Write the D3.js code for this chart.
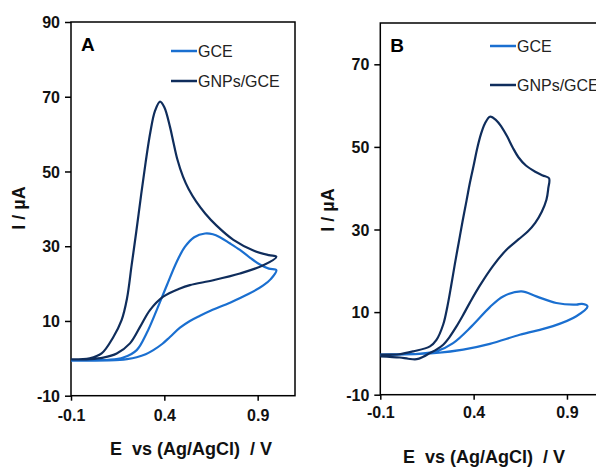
<!DOCTYPE html>
<html><head><meta charset="utf-8">
<script src="https://cdn.jsdelivr.net/npm/d3@7"></script>
<style>body{margin:0;background:#fff}svg{display:block}</style>
</head><body>
<script>
// ---- data (E / V, I / µA) in scan order ----
const xTicks = [-0.1, 0.4, 0.9];
const yTicksA = [-10, 10, 30, 50, 70, 90];
const yTicksB = [-10, 10, 30, 50, 70];
const seriesNames = ["GCE", "GNPs/GCE"];

const gceA = [[-0.1,-0.5],[0.0,-0.5],[0.1,-0.4],[0.18,0.2],[0.252,2.2],[0.305,6.7],[0.359,12.9],[0.413,19.5],[0.466,25.8],[0.51,29.8],[0.56,32.4],[0.618,33.4],[0.66,33.2],[0.698,32.4],[0.75,30.8],[0.805,29.0],[0.86,26.9],[0.912,25.1],[0.96,24.0],[1.0,23.6],
  [0.97,21.2],[0.93,19.5],[0.85,17.2],[0.752,14.9],[0.65,12.8],[0.591,11.4],[0.537,10.0],[0.484,8.2],[0.43,5.7],[0.39,3.9],[0.341,2.2],[0.30,1.1],[0.252,0.3],[0.2,-0.2],[0.162,-0.4],[0.0,-0.6],[-0.1,-0.6]];
const gnpA = [[-0.1,-0.3],[0.0,0.0],[0.064,1.3],[0.127,5.7],[0.171,10.2],[0.20,16.0],[0.225,25.0],[0.25,34.0],[0.275,43.5],[0.30,52.5],[0.325,60.5],[0.35,66.2],[0.377,68.7],[0.40,67.2],[0.43,62.0],[0.45,57.5],[0.47,53.2],[0.50,48.6],[0.53,45.3],[0.57,42.0],[0.62,38.7],[0.68,35.5],[0.77,31.7],[0.88,28.8],[0.96,27.6],[1.0,27.2],
  [0.93,24.9],[0.805,22.7],[0.662,20.9],[0.537,19.6],[0.484,18.7],[0.394,16.5],[0.323,12.9],[0.27,8.4],[0.216,4.0],[0.145,1.3],[0.073,0.2],[0.0,-0.2],[-0.1,-0.3]];
const gceB = [[-0.1,-0.3],[0.0,-0.2],[0.1,-0.1],[0.2,0.5],[0.29,2.5],[0.39,6.6],[0.487,11.2],[0.558,13.8],[0.656,15.0],[0.736,13.8],[0.843,12.2],[0.95,11.8],[0.98,12.0],[1.01,11.4],
  [0.95,9.0],[0.825,6.6],[0.647,4.5],[0.487,2.3],[0.344,0.9],[0.2,0.1],[0.0,-0.3],[-0.1,-0.4]];
const gnpB = [[-0.1,-0.3],[0.0,-0.2],[0.077,0.5],[0.166,1.7],[0.2,3.2],[0.237,7.0],[0.26,11.5],[0.28,16.5],[0.30,21.8],[0.32,26.8],[0.34,31.8],[0.362,37.0],[0.38,41.3],[0.40,45.5],[0.42,49.8],[0.44,53.2],[0.46,55.6],[0.487,57.3],[0.52,56.5],[0.55,54.8],[0.58,52.5],[0.61,49.8],[0.64,47.5],[0.68,45.5],[0.73,44.0],[0.77,43.1],[0.804,42.4],
  [0.80,40.0],[0.79,37.2],[0.765,34.3],[0.73,31.6],[0.69,29.5],[0.64,27.6],[0.576,25.1],[0.504,21.2],[0.433,16.4],[0.38,12.3],[0.34,9.0],[0.309,6.6],[0.27,3.9],[0.237,2.1],[0.2,0.9],[0.166,0.1],[0.13,-0.8],[0.095,-1.4],[0.05,-1.3],[0.005,-1.0],[-0.1,-0.7]];

const colors = ["#1A6FD0", "#0F2D5C"];
const W = 596, H = 467;
const svg = d3.select("body").append("svg").attr("width", W).attr("height", H);
svg.append("rect").attr("width", W).attr("height", H).attr("fill", "#fff");
const font = "'Liberation Sans', Arial, sans-serif";
const fmtX = d => d.toFixed(1);
const fmtY = d => String(d);

function panel(o) {
  const x = d3.scaleLinear().domain([-0.1, 1.1]).range([o.x0, o.x0 + 224]);
  const y = d3.scaleLinear().domain(o.ydom).range([o.y1, o.y0]);
  const g = svg.append("g");
  g.append("rect").attr("x", o.x0).attr("y", o.y0).attr("width", 224).attr("height", o.y1 - o.y0)
    .attr("fill", "none").attr("stroke", "#000").attr("stroke-width", 1.5);
  const line = d3.line().x(d => x(d[0])).y(d => y(d[1])).curve(d3.curveCatmullRom.alpha(0.5));
  o.series.forEach((s, i) => {
    g.append("path").attr("d", line(s)).attr("fill", "none").attr("stroke", colors[i])
      .attr("stroke-width", 2.2).attr("stroke-linejoin", "round");
  });
  const ax = g.append("g").attr("transform", `translate(0,${o.y1})`)
    .call(d3.axisBottom(x).tickValues(xTicks).tickSize(5).tickSizeOuter(0).tickFormat(fmtX));
  const ay = g.append("g").attr("transform", `translate(${o.x0},0)`)
    .call(d3.axisLeft(y).tickValues(o.yticks).tickSize(6).tickSizeOuter(0).tickFormat(fmtY));
  [ax, ay].forEach(a => {
    a.select(".domain").remove();
    a.selectAll("line").attr("stroke", "#000").attr("stroke-width", 1.5);
    a.selectAll("text").attr("font-family", font).attr("font-size", 16).attr("font-weight", "bold").attr("fill", "#111");
  });
  ax.selectAll("text").attr("dy", null).attr("y", 0).attr("transform", `translate(0,${o.xtb - o.y1})`);
  ay.selectAll("text").attr("x", -11).attr("dy", "0.35em");
  g.append("text").attr("x", o.x0 + 10).attr("y", o.y0 + 29).text(o.letter)
    .attr("font-family", font).attr("font-size", 19).attr("font-weight", "bold");
  seriesNames.forEach((n, i) => {
    const ly = o.leg[1] + i * o.legGap;
    g.append("line").attr("x1", o.leg[0]).attr("x2", o.leg[0] + 26).attr("y1", ly).attr("y2", ly)
      .attr("stroke", colors[i]).attr("stroke-width", 2.5);
    g.append("text").attr("x", o.leg[0] + 27).attr("y", ly).attr("dy", "0.35em").text(n)
      .attr("font-family", font).attr("font-size", 16).attr("fill", "#222");
  });
  g.append("text").attr("x", o.xt[0]).attr("y", o.xt[1]).attr("text-anchor", "middle")
    .style("white-space", "pre").text("E  vs (Ag/AgCl)  / V")
    .attr("font-family", font).attr("font-size", 18).attr("font-weight", "bold").attr("fill", "#111");
  g.append("text").attr("transform", `translate(${o.yt[0]},${o.yt[1]}) rotate(-90)`).attr("text-anchor", "middle")
    .attr("dy", "0.35em").text("I / µA")
    .attr("font-family", font).attr("font-size", 18).attr("font-weight", "bold").attr("fill", "#111");
}

panel({x0: 71, y0: 22, y1: 395.7, ydom: [-10, 90], yticks: yTicksA, series: [gceA, gnpA], letter: "A",
  leg: [171, 51], legGap: 30, xt: [191, 455], yt: [19, 208], xtb: 421});
panel({x0: 380.3, y0: 23, y1: 394.7, ydom: [-10, 80], yticks: yTicksB, series: [gceB, gnpB], letter: "B",
  leg: [490, 46], legGap: 39, xt: [484, 463], yt: [328, 210], xtb: 418});
</script>
</body></html>
